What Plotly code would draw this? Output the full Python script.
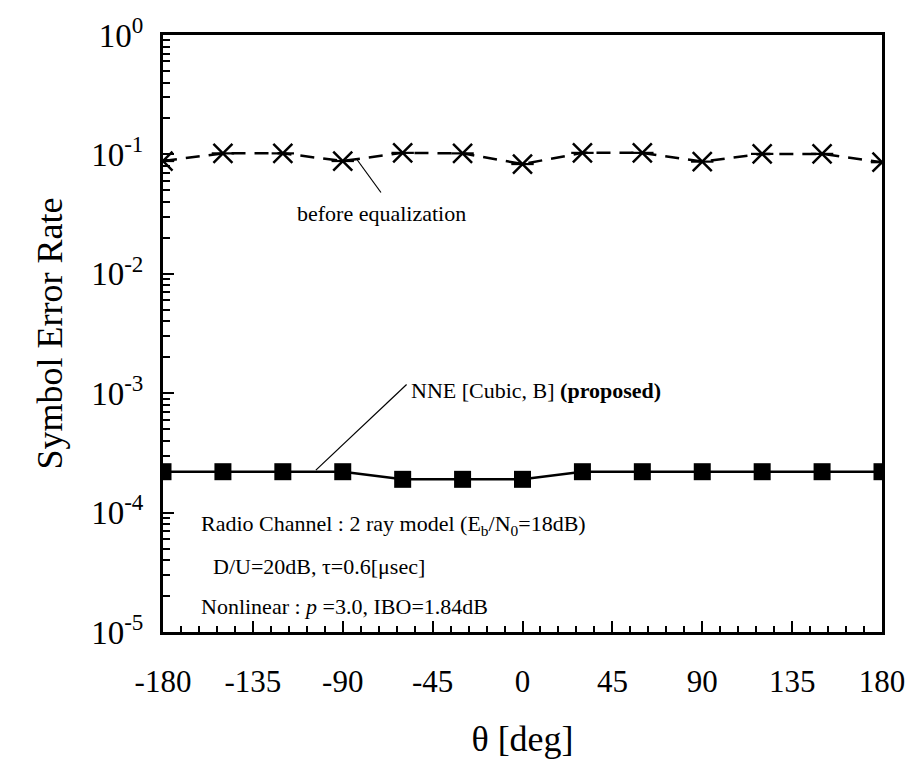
import plotly.graph_objects as go

# Rotation angle of the second ray [deg]
theta = [-180, -150, -120, -90, -60, -30, 0, 30, 60, 90, 120, 150, 180]

# Symbol error rate without equalization
ser_before = [0.088, 0.102, 0.102, 0.088, 0.103, 0.102, 0.083,
              0.103, 0.103, 0.087, 0.101, 0.101, 0.086]

# Symbol error rate with NNE [Cubic, B]
ser_nne = [2.2e-4, 2.2e-4, 2.2e-4, 2.2e-4, 1.9e-4, 1.9e-4, 1.9e-4,
           2.2e-4, 2.2e-4, 2.2e-4, 2.2e-4, 2.2e-4, 2.2e-4]

x_ticks = [-180, -135, -90, -45, 0, 45, 90, 135, 180]
y_decades = [0, -1, -2, -3, -4, -5]

FONT = "Liberation Serif, Times New Roman, serif"

# plot-area edges in page pixels (used for paper-referenced annotations)
L, R, T, B = 163, 892, 26, 632.5
W, H = R - L, B - T


def px_x(px):
    return (px - L) / W


def px_y(py):
    return (B - py) / H


# x labels: plain hyphen instead of the typographic minus
x_alias = {}
for v in x_ticks:
    if v < 0:
        x_alias["\u2212" + str(-v)] = str(v)

# y labels: decimal strings -> 10^n
y_alias = {}
for d in y_decades:
    dec = "1" if d == 0 else "0." + "0" * (-d - 1) + "1"
    y_alias[dec] = "10<sup>%d</sup>" % d

fig = go.Figure()

fig.add_trace(go.Scatter(
    x=theta, y=ser_before, mode="lines+markers",
    line=dict(color="black", width=2.5, dash="14px,9px"),
    marker=dict(symbol="x-thin-open", size=19, color="black",
                line=dict(color="black", width=2.5)),
    showlegend=False,
))
fig.add_trace(go.Scatter(
    x=theta, y=ser_before, mode="markers",
    marker=dict(symbol="line-ew-open", size=16, color="black",
                line=dict(color="black", width=2.2)),
    showlegend=False, hoverinfo="skip",
))
fig.add_trace(go.Scatter(
    x=theta, y=ser_nne, mode="lines+markers",
    line=dict(color="black", width=2.5),
    marker=dict(symbol="square", size=17, color="black"),
    showlegend=False,
))

# leader lines to the curve labels
fig.add_shape(type="line", xref="paper", yref="paper",
              x0=px_x(360), y0=px_y(153), x1=px_x(384), y1=px_y(186),
              line=dict(color="black", width=1.2))
fig.add_shape(type="line", xref="paper", yref="paper",
              x0=px_x(318), y0=px_y(468), x1=px_x(410), y1=px_y(381),
              line=dict(color="black", width=1.2))


def note(x, y, text, anchor="left"):
    fig.add_annotation(x=x, y=y, xref="paper", yref="paper", text=text,
                       showarrow=False, xanchor=anchor, yanchor="middle",
                       font=dict(family=FONT, size=22, color="black"))


note(px_x(385), px_y(207), "before equalization", anchor="center")
note(px_x(412), px_y(387), "NNE [Cubic, B] <b>(proposed)</b>")
note(px_x(200), px_y(524), "Radio Channel : 2 ray model (E<sub>b</sub>/N<sub>0</sub>=18dB)")
note(px_x(212), px_y(566), "D/U=20dB, τ=0.6[μsec]")
note(px_x(200), px_y(607), "Nonlinear : <i>p</i> =3.0, IBO=1.84dB")

fig.update_xaxes(
    range=[-180, 180], tickmode="linear", tick0=-180, dtick=45,
    labelalias=x_alias,
    ticks="inside", ticklen=11, tickwidth=2, tickcolor="black",
    minor=dict(dtick=9, tick0=-180, ticks="inside", ticklen=6, tickwidth=1.6,
               tickcolor="black", showgrid=False),
    showline=True, linewidth=3, linecolor="black", mirror=True,
    showgrid=False, zeroline=False, ticklabelstandoff=20,
    tickfont=dict(family=FONT, size=31, color="black"),
    title=dict(text="θ [deg]", font=dict(family=FONT, size=36, color="black"), standoff=28),
)
fig.update_yaxes(
    type="log", range=[-5, 0], tickmode="linear", tick0=0, dtick=1,
    exponentformat="none", labelalias=y_alias,
    ticks="inside", ticklen=11, tickwidth=2, tickcolor="black",
    minor=dict(ticks="inside", ticklen=7, tickwidth=1.6, tickcolor="black",
               dtick="D1", showgrid=False),
    showline=True, linewidth=3, linecolor="black", mirror=True,
    showgrid=False, zeroline=False, ticklabelstandoff=10,
    tickfont=dict(family=FONT, size=33, color="black"),
    title=dict(text="Symbol Error Rate", font=dict(family=FONT, size=36, color="black"), standoff=18),
)

fig.update_layout(
    width=917, height=764,
    margin=dict(l=163, r=25, t=26, b=131.5),
    paper_bgcolor="white", plot_bgcolor="white",
    font=dict(family=FONT, color="black"),
)

fig.write_html("out.html")
